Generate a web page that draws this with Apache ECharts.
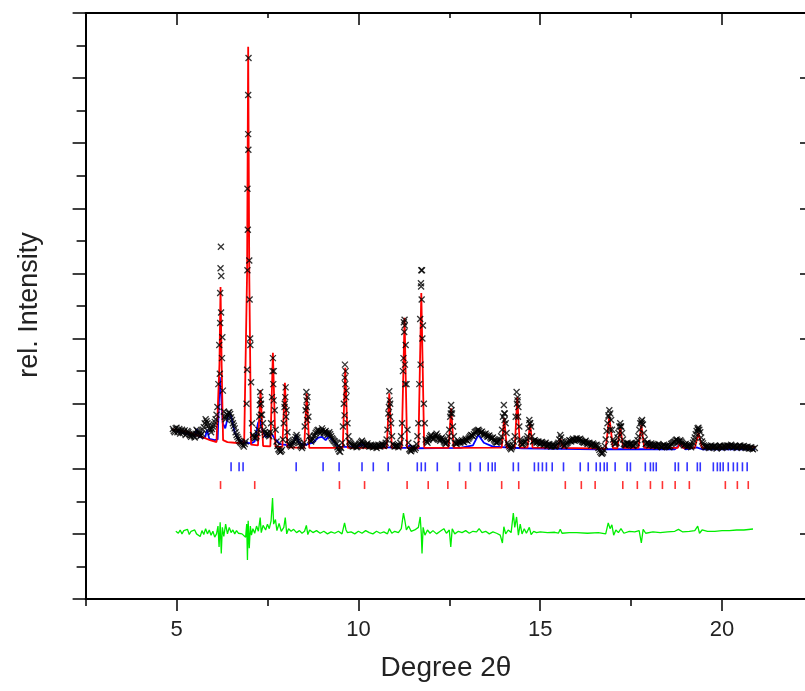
<!DOCTYPE html>
<html><head><meta charset="utf-8">
<script src="https://cdn.jsdelivr.net/npm/echarts@6/dist/echarts.min.js"></script>
<style>html,body{margin:0;padding:0;background:#fff}#c{width:805px;height:691px}</style>
</head><body><div id="c"></div>
<script>
// ---- observed intensities on a regular 2theta grid (start 4.90, step 0.05) ----
const obsStart = 4.90;
const obsStep = 0.05;
const obsValues = [
/*4.90*/ 2610,2560,2630,2580,2540,2600,2570,2520,2580,2530,
/*5.40*/ 2490,2540,2480,2600,2560,2500,2540,2640,2760,2700,
/*5.90*/ 2620,2560,2650,2720,2830,3300,4700,3700,2880,2760,
/*6.40*/ 2830,2870,2790,2700,2620,2520,2460,2410,2380,2340,
/*6.90*/ 2420,6300,5200,3330,2520,2470,2500,2600,3180,2830,
/*7.40*/ 2600,2520,2550,2500,2700,3700,2900,2420,2300,2260,
/*7.90*/ 2290,2700,3250,2560,2380,2340,2400,2450,2520,2430,
/*8.40*/ 2360,2320,2400,2900,3100,2500,2420,2460,2520,2570,
/*8.90*/ 2600,2540,2620,2550,2580,2520,2560,2500,2450,2420,
/*9.40*/ 2380,2300,2260,2400,3000,3500,2700,2420,2380,2340,
/*9.90*/ 2370,2330,2360,2390,2430,2380,2350,2390,2340,2370,
/*10.40*/2330,2360,2320,2370,2340,2380,2350,2400,2600,3190,
/*10.90*/2700,2380,2340,2360,2330,2400,2700,4250,3900,2600,
/*11.40*/2300,2270,2330,2290,2380,2700,4300,5050,3000,2450,
/*11.90*/2400,2470,2520,2450,2500,2540,2470,2430,2480,2420,
/*12.40*/2380,2430,2600,2980,2650,2400,2380,2420,2400,2440,
/*12.90*/2410,2460,2430,2480,2520,2500,2560,2580,2600,2550,
/*13.40*/2570,2520,2540,2490,2510,2460,2480,2430,2400,2420,
/*13.90*/2450,2600,2980,2700,2400,2340,2300,2360,2500,3180,
/*14.40*/2950,2450,2370,2400,2420,2500,2750,2650,2420,2440,
/*14.90*/2400,2420,2380,2410,2370,2400,2350,2380,2340,2370,
/*15.40*/2340,2360,2400,2520,2420,2350,2380,2400,2440,2420,
/*15.90*/2460,2430,2470,2440,2460,2420,2400,2430,2380,2400,
/*16.40*/2360,2390,2350,2370,2320,2260,2230,2290,2450,2700,
/*16.90*/2900,2750,2450,2380,2400,2550,2700,2550,2380,2360,
/*17.40*/2400,2370,2390,2350,2380,2400,2500,2700,2750,2550,
/*17.90*/2380,2400,2360,2390,2350,2370,2340,2380,2350,2330,
/*18.40*/2370,2340,2360,2330,2380,2400,2420,2450,2410,2440,
/*18.90*/2400,2360,2380,2340,2370,2330,2400,2480,2580,2630,
/*19.40*/2560,2420,2360,2330,2350,2320,2360,2330,2350,2310,
/*19.90*/2340,2360,2320,2350,2330,2360,2340,2370,2330,2350,
/*20.40*/2320,2340,2360,2330,2350,2320,2340,2310,2330,2300,
/*20.90*/2320
];
// second observed scan points, between the grid points above (start 4.925, step 0.05)
const obsStart2 = 4.925;
const obsValues2 = [
/*4.925*/2580,2620,2560,2610,2570,2550,2590,2540,2560,2510,
/*5.425*/2520,2500,2540,2580,2530,2520,2600,2700,2730,2660,
/*5.925*/2600,2610,2680,2760,2950,3900,4400,3200,2800,2800,
/*6.425*/2860,2840,2750,2660,2560,2490,2430,2400,2360,2380,
/*6.925*/3000,6900,4000,2700,2490,2480,2550,2800,3000,2700,
/*7.425*/2560,2540,2520,2560,3100,3500,2600,2350,2280,2270,
/*7.925*/2450,3000,2900,2440,2360,2370,2420,2490,2480,2400,
/*8.425*/2340,2350,2650,3050,2800,2440,2440,2500,2550,2590,
/*8.925*/2570,2580,2590,2560,2550,2540,2530,2470,2430,2400,
/*9.425*/2330,2270,2320,2650,3400,3200,2500,2400,2360,2350,
/*9.925*/2350,2340,2380,2410,2400,2360,2370,2360,2350,2350,
/*10.425*/2340,2340,2350,2350,2360,2360,2370,2450,2850,3000,
/*10.925*/2500,2360,2350,2350,2360,2500,3500,4200,3300,2400,
/*11.425*/2280,2300,2310,2320,2500,3300,4800,4200,2700,2420,
/*11.925*/2440,2500,2480,2470,2520,2500,2450,2460,2450,2400,
/*12.425*/2400,2500,2800,2850,2500,2390,2400,2410,2420,2420,
/*12.925*/2440,2440,2460,2500,2510,2530,2570,2590,2580,2560,
/*13.425*/2540,2530,2510,2500,2480,2470,2450,2410,2410,2430,
/*13.925*/2500,2800,2850,2550,2370,2320,2330,2420,2800,3050,
/*14.425*/2650,2400,2380,2410,2460,2620,2700,2500,2430,2420,
/*14.925*/2410,2400,2400,2390,2380,2370,2370,2360,2350,2350,
/*15.425*/2350,2380,2450,2480,2380,2360,2390,2420,2430,2440,
/*15.925*/2440,2450,2450,2450,2440,2410,2410,2400,2390,2380,
/*16.425*/2370,2370,2360,2350,2290,2240,2250,2350,2580,2820,
/*16.925*/2850,2600,2410,2390,2480,2650,2650,2450,2370,2380,
/*17.425*/2380,2380,2370,2360,2390,2440,2600,2730,2680,2450,
/*17.925*/2390,2380,2370,2370,2360,2360,2360,2360,2340,2350,
/*18.425*/2350,2350,2340,2350,2390,2410,2440,2430,2420,2420,
/*18.925*/2380,2370,2360,2350,2350,2360,2440,2530,2620,2600,
/*19.425*/2480,2390,2340,2340,2330,2340,2340,2340,2330,2330,
/*19.925*/2350,2340,2330,2340,2350,2350,2350,2350,2340,2340,
/*20.425*/2330,2350,2340,2340,2330,2330,2320,2320,2310
];
// extra observed points on the steep peak flanks
const obsPeakPoints = [
[6.19,3460],[6.20,4240],[6.21,5080],[6.22,5410],[6.23,4960],[6.26,4020],
[6.94,3520],[6.95,5050],[6.96,5670],[6.97,7140],[6.97,7740],[6.98,8310],[7.01,4600],[7.03,3900],
[7.29,2980],[7.31,3060],[7.32,2830],
[7.64,3500],[7.66,3300],[7.67,3050],
[7.97,2950],[7.99,3100],[8.01,2800],
[8.57,3180],[8.58,2950],[8.59,2750],
[9.62,2820],[9.63,3600],[9.64,3300],[9.66,3100],
[10.84,2950],[10.86,3050],[10.87,2800],
[11.24,3700],[11.26,4100],[11.27,4290],[11.28,3600],[11.29,3300],
[11.71,3600],[11.72,4850],[11.73,5050],[11.74,4600],[11.76,4000],
[12.54,2850],[12.56,2900],
[14.01,2850],[14.02,2750],
[14.36,3000],[14.38,3100],[14.39,2800],
[14.71,2700],
[16.88,2800],[16.92,2600],
[17.21,2650],[17.79,2700],[19.34,2600]
];
// calculated profile (red)
const calcCurve = [
[4.88,2600],[5.00,2600],[5.37,2550],[5.65,2500],[5.92,2440],[6.10,2410],
[6.14,2410],[6.18,3600],[6.21,4790],[6.24,3600],[6.28,2440],
[6.40,2410],[6.60,2400],[6.86,2390],
[6.90,2400],[6.94,5000],[6.97,8480],[7.00,5000],[7.05,2370],
[7.24,2360],[7.31,3210],[7.38,2350],
[7.58,2345],[7.65,3780],[7.72,2340],
[7.91,2335],[7.98,3320],[8.05,2330],
[8.51,2320],[8.58,3160],[8.65,2320],
[9.57,2320],[9.64,3550],[9.71,2320],
[10.78,2320],[10.85,3160],[10.92,2320],
[11.19,2320],[11.27,4320],[11.34,2320],
[11.65,2320],[11.73,4700],[11.81,2320],
[12.48,2320],[12.55,2930],[12.62,2320],
[13.94,2325],[14.01,2780],[14.08,2325],
[14.30,2325],[14.37,3100],[14.44,2325],
[14.65,2325],[14.72,2700],[14.79,2325],
[15.48,2320],[15.55,2470],[15.62,2320],
[16.80,2310],[16.90,2800],[17.00,2315],
[17.12,2315],[17.20,2640],[17.28,2320],
[17.70,2320],[17.78,2670],[17.86,2320],
[18.78,2320],[18.85,2410],[18.92,2320],
[19.25,2320],[19.35,2550],[19.45,2320],
[20.15,2330],[20.22,2370],[20.29,2330],
[20.91,2335]
];
// second phase contribution (blue)
const phase2Curve = [
[5.00,2580],[5.35,2530],[5.50,2500],[5.56,2610],[5.62,2490],[5.78,2470],[5.84,2600],[5.90,2460],
[6.05,2440],[6.13,2450],[6.19,3410],[6.23,3100],[6.27,2700],[6.34,2620],[6.42,2820],[6.47,2860],
[6.52,2760],[6.60,2560],[6.70,2450],[6.80,2420],[6.90,2400],[7.05,2390],[7.15,2420],[7.24,2700],
[7.29,2760],[7.35,2600],[7.45,2490],[7.55,2510],[7.62,2530],[7.72,2450],[7.85,2380],[8.10,2360],
[8.22,2400],[8.29,2520],[8.36,2410],[8.50,2360],[8.75,2400],[8.90,2480],[9.00,2490],[9.10,2440],
[9.20,2510],[9.28,2440],[9.45,2340],[10.00,2330],[10.10,2380],[10.20,2335],[11.30,2320],[11.42,2360],
[11.55,2315],[12.80,2320],[13.15,2360],[13.30,2520],[13.45,2400],[13.70,2340],[14.50,2315],[16.60,2300],
[18.70,2300],[18.85,2380],[19.00,2300],[19.30,2330],[19.45,2300],[20.91,2300]
];
// difference curve (green)
const diffCurve = [
[4.98,1040],[5.05,1010],[5.10,1060],[5.15,1000],[5.20,1050],[5.25,1020],[5.30,1070],[5.35,990],
[5.40,1040],[5.45,1010],[5.50,1060],[5.55,1000],[5.60,1030],[5.65,960],[5.70,1050],[5.75,990],
[5.80,1080],[5.85,1000],[5.90,1060],[5.95,980],[6.00,1040],[6.05,950],[6.10,1000],[6.14,1120],
[6.17,800],[6.20,1180],[6.23,700],[6.26,1100],[6.30,960],[6.35,1150],[6.40,1000],[6.45,1100],
[6.50,1020],[6.55,1060],[6.60,1000],[6.65,1050],[6.70,1010],[6.75,1040],[6.80,1000],[6.85,1030],
[6.90,950],[6.93,1150],[6.95,600],[6.97,1200],[7.00,780],[7.03,1120],[7.06,980],[7.10,1080],
[7.15,1010],[7.20,1120],[7.25,1040],[7.30,1250],[7.33,1020],[7.38,1130],[7.45,1060],[7.50,1150],
[7.55,1080],[7.60,1200],[7.64,1550],[7.67,1150],[7.72,1220],[7.76,1050],[7.82,1160],[7.88,1040],
[7.95,1100],[7.99,1250],[8.03,1000],[8.08,1080],[8.15,1040],[8.22,1070],[8.30,1020],[8.38,1050],
[8.45,1010],[8.52,1040],[8.57,1130],[8.61,990],[8.66,1060],[8.75,1020],[8.85,1050],[8.95,1010],
[9.05,1040],[9.15,1000],[9.25,1030],[9.35,1010],[9.45,1040],[9.55,1000],[9.62,1170],[9.66,1060],
[9.70,1020],[9.80,1030],[9.90,1000],[10.00,1040],[10.10,1010],[10.20,1050],[10.30,1020],[10.40,1000],
[10.50,1040],[10.60,1010],[10.70,1030],[10.80,1000],[10.85,1080],[10.92,1010],[11.00,1040],[11.10,1020],
[11.18,1080],[11.24,1320],[11.28,1200],[11.32,1060],[11.38,1120],[11.45,1040],[11.55,1060],[11.65,1100],
[11.70,1260],[11.73,1000],[11.75,700],[11.78,1100],[11.83,980],[11.90,1060],[11.97,1010],[12.05,1050],
[12.15,1000],[12.25,1040],[12.35,1080],[12.42,1010],[12.50,1060],[12.54,800],[12.58,1080],[12.65,1000],
[12.75,1040],[12.85,1020],[12.95,1050],[13.05,1010],[13.15,1040],[13.25,1030],[13.32,1080],[13.40,1020],
[13.50,1040],[13.60,1000],[13.70,1030],[13.80,1010],[13.90,980],[13.96,860],[14.00,1110],[14.05,1000],
[14.12,1060],[14.20,1020],[14.26,1320],[14.30,1100],[14.35,1260],[14.40,980],[14.45,1150],[14.50,1000],
[14.56,1080],[14.62,1010],[14.70,1100],[14.75,990],[14.82,1040],[14.90,1020],[15.00,1030],[15.20,1020],
[15.40,1025],[15.50,1010],[15.55,1070],[15.60,1010],[15.80,1020],[16.00,1020],[16.30,1010],[16.60,1020],
[16.80,1000],[16.87,1170],[16.92,1080],[16.97,1140],[17.02,980],[17.08,1060],[17.15,1020],[17.22,1080],
[17.30,1010],[17.45,1040],[17.60,1030],[17.72,1050],[17.78,860],[17.83,1070],[17.90,1010],[18.10,1030],
[18.30,1020],[18.50,1030],[18.70,1040],[18.80,1070],[18.85,1100],[18.92,1030],[19.10,1040],[19.25,1050],
[19.33,1120],[19.38,1010],[19.45,1060],[19.60,1040],[19.80,1040],[20.00,1050],[20.20,1050],[20.40,1060],
[20.60,1060],[20.85,1075]
];
// reflection positions
const phase2Ticks = [6.50,6.72,6.83,8.29,9.03,9.47,10.10,10.41,10.82,11.62,11.73,11.84,12.17,12.78,13.08,
13.35,13.57,13.68,13.76,14.26,14.40,14.84,14.95,15.06,15.17,15.33,15.64,16.10,16.32,16.54,16.65,16.76,
16.84,17.06,17.39,17.48,17.89,18.03,18.11,18.19,18.71,18.80,19.04,19.32,19.40,19.76,19.87,19.95,20.03,
20.17,20.31,20.42,20.56,20.69];
const phase1Ticks = [6.21,7.15,9.48,10.17,11.34,11.92,12.46,12.95,13.94,14.41,15.69,16.13,16.51,17.27,
17.67,18.03,18.36,18.71,19.10,20.09,20.42,20.72];
const xMajorTicks = [5,10,15,20];
const xMinorTicks = [2.5,7.5,12.5,17.5,22.5];
const xLabels = ['5','10','15','20'];

// layout constants
const phase2TickLevel = 2030;
const phase1TickLevel = 1750;
const FONT = 'Liberation Sans, Arial, sans-serif';

const obsData = obsValues.map((v, i) => [+(obsStart + i * obsStep).toFixed(3), v])
  .concat(obsValues2.map((v, i) => [+(obsStart2 + i * obsStep).toFixed(3), v]))
  .concat(obsPeakPoints);

const chart = echarts.init(document.getElementById('c'), null, {renderer: 'canvas'});
const gridRect = {left: 85.6, right: -8, top: 13, bottom: 92, outerBoundsMode: 'none', containLabel: false};
const black = '#000';
chart.setOption({
  animation: false,
  backgroundColor: '#fff',
  grid: [Object.assign({}, gridRect), Object.assign({}, gridRect)],
  xAxis: [
    {gridIndex: 0, type: 'value', position: 'bottom', min: 2.5, max: 22.5, interval: 2.5,
     axisLine: {show: true, onZero: false, lineStyle: {color: black, width: 2}},
     axisTick: {show: true, customValues: xMajorTicks, length: 12, lineStyle: {color: black, width: 1.5}},
     axisLabel: {show: true, customValues: xMajorTicks, margin: 20, fontSize: 22, color: '#222', fontFamily: FONT,
       formatter: v => xLabels[xMajorTicks.indexOf(v)] || ''},
     splitLine: {show: false}},
    {gridIndex: 0, type: 'value', position: 'top', min: 2.5, max: 22.5, interval: 2.5,
     axisLine: {show: true, onZero: false, lineStyle: {color: black, width: 2}},
     axisTick: {show: true, inside: true, customValues: xMajorTicks, length: 12, lineStyle: {color: black, width: 1.5}},
     axisLabel: {show: false}, splitLine: {show: false}},
    {gridIndex: 1, type: 'value', position: 'bottom', min: 2.5, max: 22.5, interval: 2.5,
     axisLine: {show: false, onZero: false},
     axisTick: {show: true, customValues: xMinorTicks, length: 7, lineStyle: {color: black, width: 1.5}},
     axisLabel: {show: false}, splitLine: {show: false}},
    {gridIndex: 1, type: 'value', position: 'top', min: 2.5, max: 22.5, interval: 2.5,
     axisLine: {show: false, onZero: false},
     axisTick: {show: true, inside: true, customValues: xMinorTicks, length: 5, lineStyle: {color: black, width: 1.5}},
     axisLabel: {show: false}, splitLine: {show: false}}
  ],
  yAxis: [
    {gridIndex: 0, type: 'value', position: 'left', min: 0, max: 9000, interval: 1000,
     axisLine: {show: true, onZero: false, lineStyle: {color: black, width: 2}},
     axisTick: {show: true, length: 13, lineStyle: {color: black, width: 1.5}},
     minorTick: {show: true, splitNumber: 2, length: 9, lineStyle: {color: black, width: 1.5}},
     axisLabel: {show: false}, splitLine: {show: false}, minorSplitLine: {show: false}},
    {gridIndex: 0, type: 'value', position: 'right', min: 0, max: 9000, interval: 1000,
     axisLine: {show: true, onZero: false, lineStyle: {color: black, width: 2}},
     axisTick: {show: true, inside: true, length: 13, lineStyle: {color: black, width: 1.5}},
     minorTick: {show: true, splitNumber: 2, length: 6, lineStyle: {color: black, width: 1.5}},
     axisLabel: {show: false}, splitLine: {show: false}},
    {gridIndex: 1, type: 'value', show: false, min: 0, max: 9000}
  ],
  series: [
    {type: 'line', name: 'phase 2', xAxisIndex: 0, yAxisIndex: 0, data: phase2Curve, symbol: 'none',
     lineStyle: {color: '#0000ff', width: 1.8}, silent: true, z: 2},
    {type: 'line', name: 'calc', xAxisIndex: 0, yAxisIndex: 0, data: calcCurve, symbol: 'none',
     lineStyle: {color: '#ff0000', width: 1.8}, silent: true, z: 3},
    {type: 'scatter', name: 'obs', xAxisIndex: 0, yAxisIndex: 0, data: obsData,
     symbol: 'path://M0 0L6 6M6 0L0 6', symbolSize: 6, large: false,
     itemStyle: {color: '#000', borderColor: '#000', borderWidth: 1.3}, silent: true, z: 4},
    {type: 'line', name: 'diff', xAxisIndex: 0, yAxisIndex: 0, data: diffCurve, symbol: 'none',
     lineStyle: {color: '#00ee00', width: 1.3}, silent: true, z: 3},
    {type: 'scatter', name: 'phase 2 reflections', xAxisIndex: 0, yAxisIndex: 0,
     data: phase2Ticks.map(x => [x, phase2TickLevel]), symbol: 'rect', symbolSize: [1.6, 9],
     itemStyle: {color: '#0000ff'}, silent: true, z: 3},
    {type: 'scatter', name: 'phase 1 reflections', xAxisIndex: 0, yAxisIndex: 0,
     data: phase1Ticks.map(x => [x, phase1TickLevel]), symbol: 'rect', symbolSize: [1.6, 8],
     itemStyle: {color: '#ff0000'}, silent: true, z: 3}
  ],
  graphic: [
    {type: 'text', x: 446, y: 668, silent: true,
     style: {text: 'Degree 2θ', fontSize: 28, fontFamily: FONT, fill: '#222', align: 'center', verticalAlign: 'middle'}},
    {type: 'text', x: 30, y: 305, rotation: Math.PI / 2, silent: true,
     style: {text: 'rel. Intensity', fontSize: 27, fontFamily: FONT, fill: '#222', align: 'center', verticalAlign: 'middle'}}
  ]
});
</script>
</body></html>
